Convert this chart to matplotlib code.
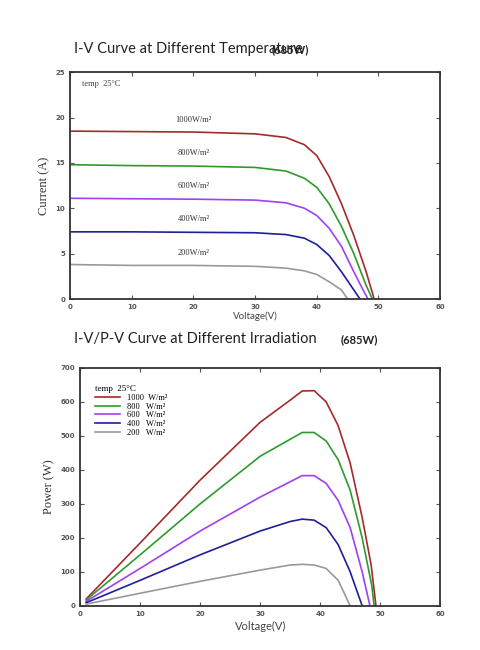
import matplotlib
matplotlib.use("Agg")
import matplotlib.pyplot as plt

labels = ["1000", "800", "600", "400", "200"]
colors = ["#a52a2a", "#2e9a2e", "#a040f0", "#1f1f9a", "#999999"]

iv_v = [
    [0, 10, 20, 30, 35, 38, 40, 42, 44, 46, 48, 49.3],
    [0, 10, 20, 30, 35, 38, 40, 42, 44, 46, 48, 49.0],
    [0, 10, 20, 30, 35, 38, 40, 42, 44, 46, 47.5, 48.3],
    [0, 10, 20, 30, 35, 38, 40, 42, 44, 45.5, 47.0],
    [0, 10, 20, 30, 35, 38, 40, 42, 44, 45.0],
]
iv_i = [
    [18.5, 18.45, 18.4, 18.2, 17.8, 17.0, 15.8, 13.5, 10.5, 7.0, 3.0, 0],
    [14.8, 14.7, 14.65, 14.5, 14.1, 13.3, 12.3, 10.5, 8.0, 5.0, 1.5, 0],
    [11.1, 11.05, 11.0, 10.9, 10.6, 10.0, 9.2, 7.8, 5.8, 3.0, 1.0, 0],
    [7.4, 7.4, 7.35, 7.3, 7.1, 6.7, 6.0, 4.8, 3.0, 1.5, 0],
    [3.8, 3.7, 3.7, 3.6, 3.4, 3.1, 2.7, 1.9, 1.0, 0],
]
iv_lab_y = [19.5, 15.9, 12.2, 8.6, 4.9]

pv_v = [
    [1, 10, 20, 30, 35, 37, 39, 41, 43, 45, 47, 48.5, 49.3],
    [1, 10, 20, 30, 35, 37, 39, 41, 43, 45, 47, 48.6, 49.0],
    [1, 10, 20, 30, 35, 37, 39, 41, 43, 45, 47, 48.3],
    [1, 10, 20, 30, 35, 37, 39, 41, 43, 45, 47],
    [1, 10, 20, 30, 35, 37, 39, 41, 43, 45],
]
pv_p = [
    [20, 185, 370, 540, 605, 632, 633, 600, 530, 420, 260, 120, 0],
    [17, 150, 300, 440, 490, 510, 510, 485, 430, 340, 200, 60, 0],
    [13, 110, 220, 320, 365, 383, 383, 360, 310, 230, 100, 0],
    [9, 75, 150, 220, 248, 255, 252, 230, 180, 100, 0],
    [5, 37, 72, 105, 120, 122, 120, 110, 75, 0],
]

fig = plt.figure(figsize=(4.8, 6.5), dpi=100)
serif = "Liberation Serif"

def style(ax, xmax, ymax, ystep):
    ax.set_xlim(0, xmax); ax.set_ylim(0, ymax)
    ax.set_xticks(range(0, xmax + 1, 10))
    ax.set_yticks(range(0, ymax + 1, ystep))
    ax.tick_params(direction="in", labelsize=5, colors="#555555", length=3,
                   top=True, right=True)
    for t in ax.get_xticklabels() + ax.get_yticklabels():
        t.set_fontweight("bold")
    for s in ax.spines.values():
        s.set_linewidth(1.3); s.set_color("#333333")

ax1 = fig.add_axes([0.146, 0.54, 0.771, 0.349])
for v, i, c, l, ly in zip(iv_v, iv_i, colors, labels, iv_lab_y):
    ax1.plot(v, i, color=c, lw=1.2)
    ax1.text(20, ly, f"{l}W/m²", family=serif, fontsize=6, ha="center", color="#333333")
style(ax1, 60, 25, 5)
ax1.text(2, 23.5, "temp  25°C", family=serif, fontsize=6, color="#444444")
ax1.set_ylabel("Current (A)", family=serif, fontsize=9, color="#333333")
ax1.set_xlabel("Voltage(V)", family="Lato", fontsize=7, color="#444444", labelpad=1)
fig.text(0.155, 0.918, "I-V Curve at Different Temperature ", family="Lato", fontsize=10.5, color="#222222")
fig.text(0.565, 0.918, "(685W)", family="Lato", fontsize=8, weight="bold", color="#222222")

ax2 = fig.add_axes([0.167, 0.068, 0.75, 0.366])
for v, p, c, l in zip(pv_v, pv_p, colors, labels):
    ax2.plot(v, p, color=c, lw=1.2, label=f"{l:<5} W/m²")
style(ax2, 60, 700, 100)
leg = ax2.legend(loc="upper left", bbox_to_anchor=(0.02, 0.96), frameon=False,
                 prop={"family": serif, "size": 6}, handlelength=3, labelspacing=0.1,
                 title="temp  25°C", alignment="left")
leg.get_title().set_fontfamily(serif); leg.get_title().set_fontsize(6.5)
ax2.set_ylabel("Power (W)", family=serif, fontsize=9, color="#333333")
ax2.set_xlabel("Voltage(V)", family="Lato", fontsize=8, color="#444444", labelpad=3)
fig.text(0.155, 0.472, "I-V/P-V Curve at Different Irradiation ", family="Lato", fontsize=10.5, color="#222222")
fig.text(0.71, 0.472, "(685W)", family="Lato", fontsize=8, weight="bold", color="#222222")

fig.savefig("out.png", dpi=100)
